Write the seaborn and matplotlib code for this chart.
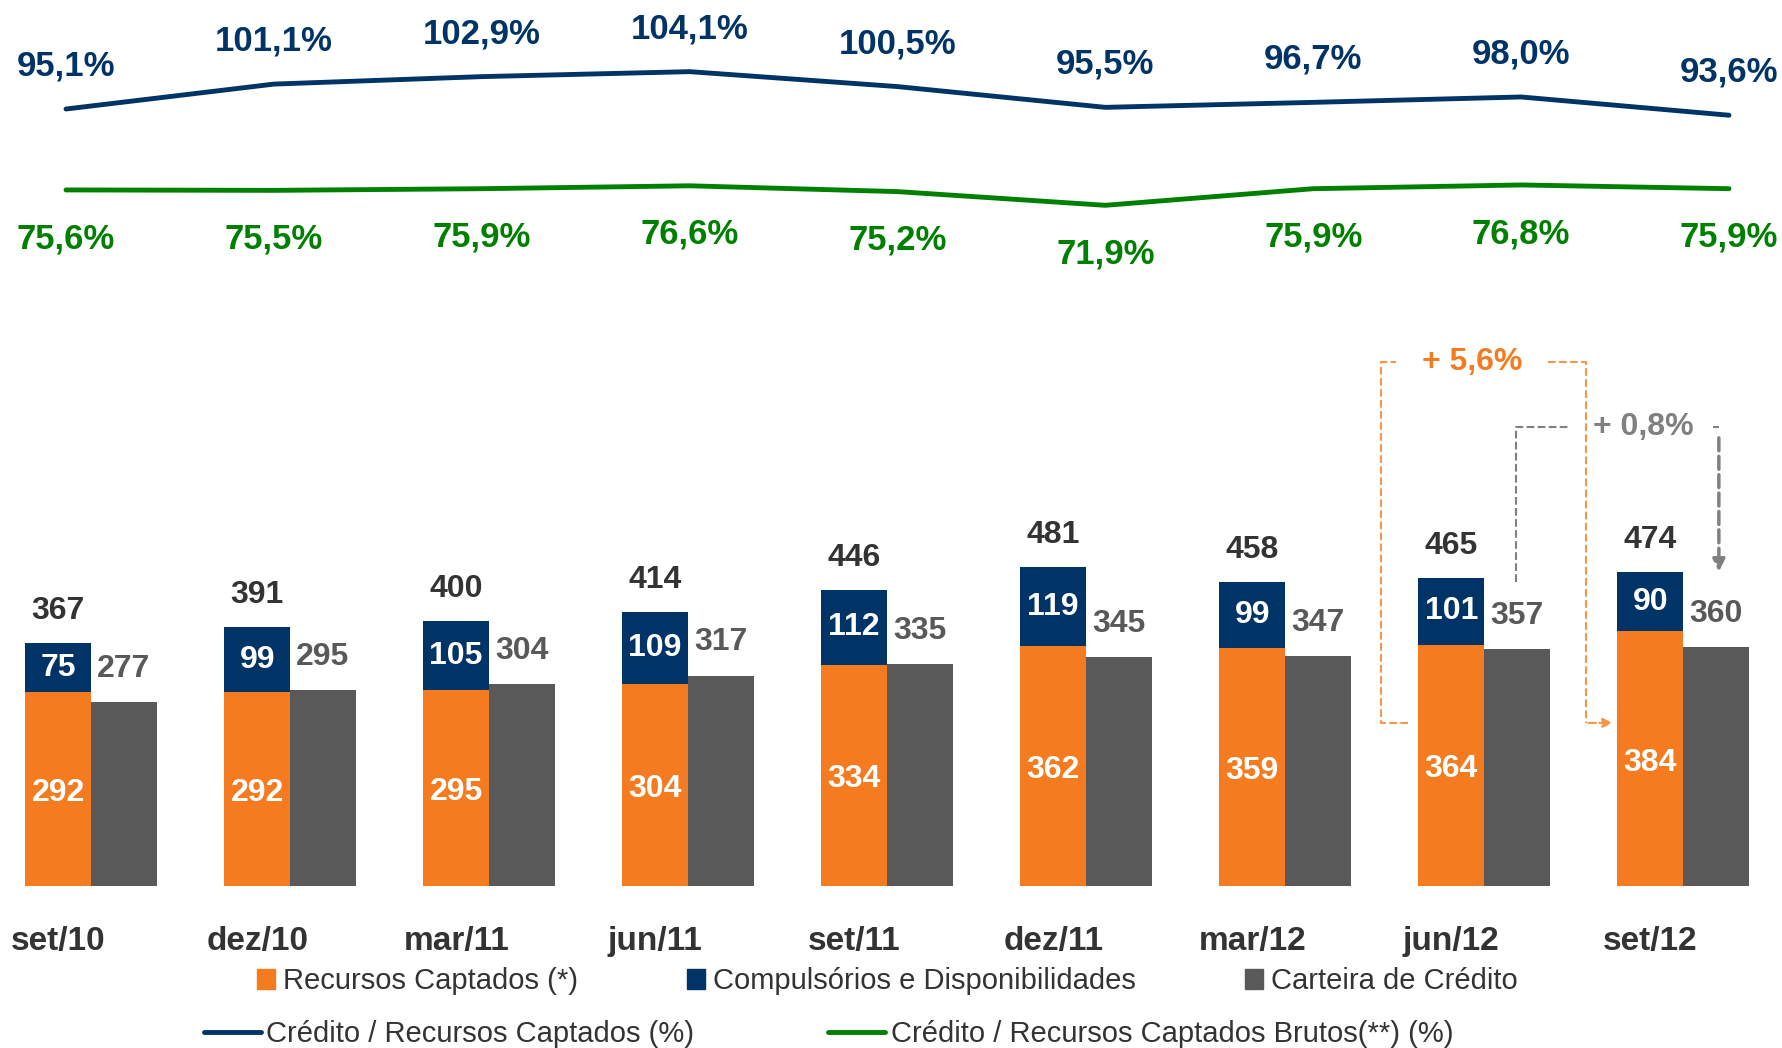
import numpy as np
import pandas as pd
import matplotlib
matplotlib.use('Agg')
import matplotlib.pyplot as plt
from matplotlib.lines import Line2D
from matplotlib.patches import Patch
import seaborn as sns

# --- dados ---
periodos = ['set/10', 'dez/10', 'mar/11', 'jun/11', 'set/11', 'dez/11', 'mar/12', 'jun/12', 'set/12']
recursos = [292, 292, 295, 304, 334, 362, 359, 364, 384]
compulsorios = [75, 99, 105, 109, 112, 119, 99, 101, 90]
totais = [367, 391, 400, 414, 446, 481, 458, 465, 474]
carteira = [277, 295, 304, 317, 335, 345, 347, 357, 360]
cred_recursos = [95.1, 101.1, 102.9, 104.1, 100.5, 95.5, 96.7, 98.0, 93.6]
cred_brutos = [75.6, 75.5, 75.9, 76.6, 75.2, 71.9, 75.9, 76.8, 75.9]
var_recursos = '+ 5,6%'
var_carteira = '+ 0,8%'

LARANJA = '#F47B20'
AZUL = '#003366'
CINZA = '#595959'
VERDE = '#008000'
ESCURO = '#333333'

sns.set_style('white')
plt.rcParams['font.family'] = ['Liberation Sans Narrow', 'Liberation Sans', 'DejaVu Sans']

def pct(v):
    return f'{v:.1f}%'.replace('.', ',')

W, H = 1782, 1048
fig = plt.figure(figsize=(W / 100, H / 100), dpi=100)

# --- linhas (topo) ---
pos = np.arange(len(periodos))
ax_l = fig.add_axes([66 / W, (H - 254.7) / H, 1663 / W, 228.3 / H])
sns.lineplot(x=pos, y=cred_recursos, color=AZUL, linewidth=3.5, ax=ax_l)
sns.lineplot(x=pos, y=cred_brutos, color=VERDE, linewidth=3.5, ax=ax_l)
for ln in ax_l.lines:
    ln.set_clip_on(False)
ax_l.set_xlim(0, 8)
ax_l.set_ylim(60, 115)
ax_l.axis('off')
for i in pos:
    ax_l.annotate(pct(cred_recursos[i]), (i, cred_recursos[i]), xytext=(0, 31),
                  textcoords='offset points', ha='center', va='center',
                  fontsize=25, fontweight='bold', color=AZUL, annotation_clip=False)
    ax_l.annotate(pct(cred_brutos[i]), (i, cred_brutos[i]), xytext=(0, -35),
                  textcoords='offset points', ha='center', va='center',
                  fontsize=25, fontweight='bold', color=VERDE, annotation_clip=False)

# --- barras ---
ax_b = fig.add_axes([1.4 / W, (H - 886) / H, 1771.2 / W, 543.7 / H])
df = pd.DataFrame({'pos': pos, 'recursos': recursos, 'comp': compulsorios,
                   'carteira': carteira})
df['topo'] = df['recursos'] + df['comp']
df['x_esq'] = df['pos'] - 0.165
df['x_dir'] = df['pos'] + 0.165

sns.barplot(data=df, x='x_esq', y='topo', native_scale=True, width=0.33,
            color=AZUL, saturation=1, errorbar=None, linewidth=0, ax=ax_b)
sns.barplot(data=df, x='x_esq', y='recursos', native_scale=True, width=0.33,
            color=LARANJA, saturation=1, errorbar=None, linewidth=0, ax=ax_b)
sns.barplot(data=df, x='x_dir', y='carteira', native_scale=True, width=0.33,
            color=CINZA, saturation=1, errorbar=None, linewidth=0, ax=ax_b)

ax_b.set_xlim(-0.45, 8.45)
ax_b.set_ylim(0, 820)
ax_b.set_xticks([])
ax_b.set_yticks([])
ax_b.set_xlabel('')
ax_b.set_ylabel('')
sns.despine(ax=ax_b, left=True, bottom=True)

for i in pos:
    xe, xd = i - 0.165, i + 0.165
    ax_b.annotate(str(recursos[i]), (xe, recursos[i] / 2), xytext=(0, -3),
                  textcoords='offset points', ha='center', va='center',
                  fontsize=23, fontweight='bold', color='white')
    ax_b.text(xe, recursos[i] + compulsorios[i] / 2, str(compulsorios[i]), ha='center',
              va='center', fontsize=23, fontweight='bold', color='white')
    ax_b.annotate(str(totais[i]), (xe, recursos[i] + compulsorios[i]), xytext=(0, 23),
                  textcoords='offset points', ha='center', va='center',
                  fontsize=23, fontweight='bold', color=ESCURO)
    ax_b.annotate(str(carteira[i]), (xd, carteira[i]), xytext=(0, 24),
                  textcoords='offset points', ha='center', va='center',
                  fontsize=23, fontweight='bold', color=CINZA)
    ax_b.annotate(periodos[i], (xe, 0), xytext=(0, -40), textcoords='offset points',
                  ha='center', va='center', fontsize=24, fontweight='bold',
                  color=ESCURO, annotation_clip=False)

# --- variações jun/12 -> set/12 ---
lar_claro = '#F79646'
ax_b.plot([6.62, 6.48, 6.48, 6.56], [246, 246, 790, 790], ls='--', lw=1.5,
          color=lar_claro, clip_on=False)
ax_b.plot([7.32, 7.51, 7.51], [790, 790, 246], ls='--', lw=1.5,
          color=lar_claro, clip_on=False)
ax_b.annotate('', xy=(7.66, 246), xytext=(7.51, 246),
              arrowprops=dict(arrowstyle='-|>', ls='--', lw=1.5, color=lar_claro,
                              mutation_scale=14))
ax_b.text(6.94, 790, var_recursos, ha='center', va='center', fontsize=23,
          fontweight='bold', color=LARANJA)

cinza_claro = '#808080'
ax_b.plot([7.16, 7.16, 7.43], [458, 692, 692], ls='--', lw=1.5,
          color=cinza_claro, clip_on=False)
ax_b.plot([8.15, 8.18], [692, 692], ls='--', lw=1.5, color=cinza_claro)
ax_b.annotate('', xy=(8.18, 470), xytext=(8.18, 680),
              arrowprops=dict(arrowstyle='-|>', ls='--', lw=2.5, color=cinza_claro,
                              mutation_scale=18))
ax_b.text(7.80, 692, var_carteira, ha='center', va='center', fontsize=23,
          fontweight='bold', color=cinza_claro)

# --- legendas ---
h1 = [Patch(color=LARANJA, label='Recursos Captados (*)'),
      Patch(color=AZUL, label='Compulsórios e Disponibilidades'),
      Patch(color=CINZA, label='Carteira de Crédito')]
fig.legend(handles=h1, loc='center', bbox_to_anchor=(0.498, 0.064), ncol=3,
           frameon=False, fontsize=21, handlelength=0.6, handleheight=0.7,
           handletextpad=0.28, columnspacing=3.75, labelcolor=ESCURO)
h2 = [Line2D([], [], color=AZUL, lw=3.5, label='Crédito / Recursos Captados (%)'),
      Line2D([], [], color=VERDE, lw=3.5, label='Crédito / Recursos Captados Brutos(**) (%)')]
fig.legend(handles=h2, loc='center', bbox_to_anchor=(0.465, 0.013), ncol=2,
           frameon=False, fontsize=21, handlelength=1.95, handletextpad=0.18,
           columnspacing=4.6, labelcolor=ESCURO)

fig.savefig('out.png', dpi=100, facecolor='white')
